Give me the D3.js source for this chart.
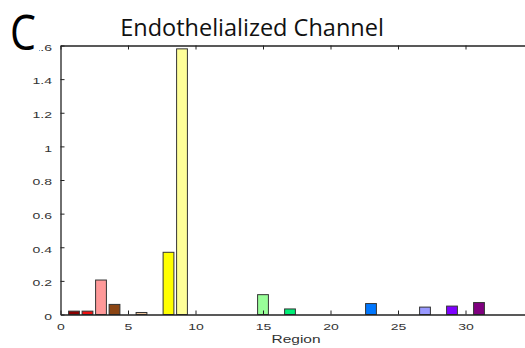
<!DOCTYPE html>
<html>
<head>
<meta charset="utf-8">
<script src="https://cdn.jsdelivr.net/npm/d3@7"></script>
<style>
  html, body { margin: 0; padding: 0; background: #fff; }
  svg { display: block; }
</style>
</head>
<body>
<svg id="chart" width="525" height="348"></svg>
<script>
// Region indices 1..34 and the measured value per region
const regions = d3.range(1, 35);
const values = [0.02, 0.02, 0.205, 0.06, 0, 0.012, 0, 0.37, 1.58, 0,
                0, 0, 0, 0, 0.118, 0, 0.033, 0, 0, 0,
                0, 0, 0.065, 0, 0, 0, 0.044, 0, 0.05, 0,
                0.071, 0, 0, 0];
const colors = ["#8b0000", "#ee1111", "#ff9999", "#8b4513", "#cc8844", "#f0c8a0", "#ccaa00", "#ffff00", "#ffff99", "#88aa00",
                "#66cc00", "#44aa44", "#00aa55", "#00cc88", "#99ff99", "#00ffaa", "#00ee77", "#00cccc", "#66dddd", "#00aaff",
                "#0088cc", "#0055aa", "#0077ff", "#3333cc", "#6666ff", "#8888ee", "#9999ff", "#aa66ff", "#7f00ff", "#9900cc",
                "#800080", "#cc00cc", "#ff66cc", "#ff3399"];
const xTicks = [0, 5, 10, 15, 20, 25, 30];
const yTicks = [0, 0.2, 0.4, 0.6, 0.8, 1, 1.2, 1.4, 1.6];

const svg = d3.select("#chart");
const plotLeft = 60.5, plotTop = 45.5, plotBottom = 314.5;
const x = d3.scaleLinear().domain([0, 35]).range([plotLeft, plotLeft + 35 * 13.5]);
const y = d3.scaleLinear().domain([0, 1.6]).range([plotBottom, plotTop]);
const barW = 0.8 * 13.5;

const data = regions.map((r, i) => ({ r, v: values[i], c: colors[i] }));

// bars (zero-valued regions leave only a faint outline on the baseline)
svg.append("g").selectAll("rect").data(data).join("rect")
  .attr("x", d => x(d.r) - barW / 2)
  .attr("y", d => y(d.v))
  .attr("width", barW)
  .attr("height", d => y(0) - y(d.v))
  .attr("fill", d => d.c)
  .attr("stroke", d => d.v > 0 ? "#333" : "#bbb")
  .attr("stroke-width", 1);

const tickFont = "Liberation Sans, Arial, sans-serif";
const stretch = 1.65; // the axis lettering is wide and short

// left axis with inward ticks
const yAxis = svg.append("g").attr("transform", `translate(${plotLeft},0)`)
  .call(d3.axisLeft(y).tickValues(yTicks).tickSizeInner(-4).tickSizeOuter(0)
    .tickFormat(d => d3.format("~g")(d)));
// bottom axis with inward ticks
const xAxis = svg.append("g").attr("transform", `translate(0,${plotBottom})`)
  .call(d3.axisBottom(x).tickValues(xTicks).tickSizeInner(-4).tickSizeOuter(0));
// top edge with inward ticks, no labels
const tAxis = svg.append("g").attr("transform", `translate(0,${plotTop})`)
  .call(d3.axisTop(x).tickValues(xTicks).tickSizeInner(-4).tickSizeOuter(0).tickFormat(""));

[yAxis, xAxis, tAxis].forEach(g => {
  g.selectAll("path.domain").attr("stroke", "#222").attr("stroke-width", 1.3);
  g.selectAll(".tick line").attr("stroke", "#222");
  g.selectAll("text").attr("font-family", tickFont).attr("font-size", 8.5).attr("fill", "#333");
});
yAxis.selectAll(".tick text")
  .attr("x", 0).attr("dy", "0.45em")
  .attr("transform", `translate(-8.5,1) scale(${stretch},1)`);
xAxis.selectAll(".tick text")
  .attr("y", 0).attr("dy", 0)
  .attr("transform", `translate(0,15.5) scale(${stretch},1)`);

// axis title
svg.append("text")
  .attr("transform", `translate(296,343) scale(1.55,1)`)
  .attr("text-anchor", "middle")
  .attr("font-family", tickFont).attr("font-size", 10).attr("fill", "#333")
  .text("Region");

// chart title
svg.append("text")
  .attr("x", 252).attr("y", 36)
  .attr("text-anchor", "middle")
  .attr("font-family", "Open Sans, Noto Sans, sans-serif").attr("font-size", 23.5).attr("fill", "#111")
  .text("Endothelialized Channel");

// panel letter
svg.append("rect").attr("x", 0).attr("y", 10).attr("width", 39).attr("height", 42).attr("fill", "#fff");
svg.append("text")
  .attr("transform", "translate(10,50) scale(0.84,1)")
  .attr("font-family", "Open Sans, Noto Sans, sans-serif").attr("font-size", 49)
  .attr("fill", "#000")
  .text("C");
</script>
</body>
</html>
